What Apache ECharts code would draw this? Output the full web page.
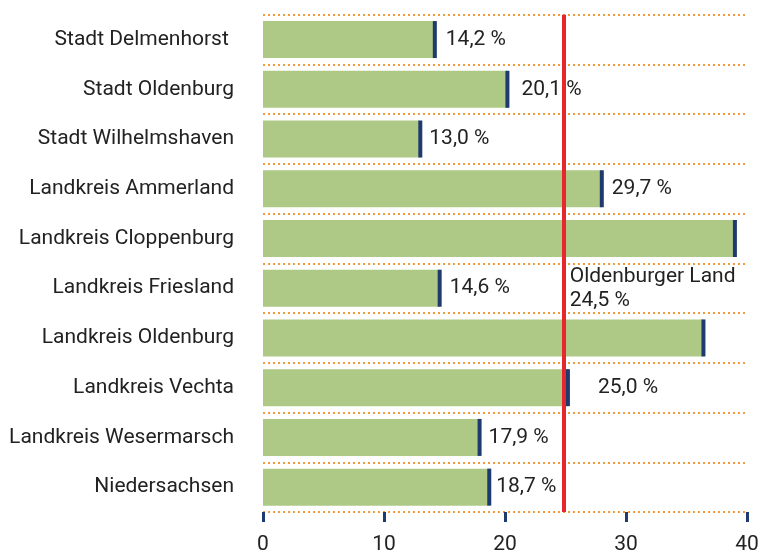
<!DOCTYPE html>
<html>
<head>
<meta charset="utf-8">
<script src="https://cdn.jsdelivr.net/npm/echarts@6/dist/echarts.min.js"></script>
<style>
html,body{margin:0;padding:0;background:#fff;}
#chart{width:765px;height:555px;}
</style>
</head>
<body>
<div id="chart"></div>
<script>
// Categories (top to bottom)
var categories = [
  'Stadt Delmenhorst ',
  'Stadt Oldenburg',
  'Stadt Wilhelmshaven',
  'Landkreis Ammerland',
  'Landkreis Cloppenburg',
  'Landkreis Friesland',
  'Landkreis Oldenburg',
  'Landkreis Vechta',
  'Landkreis Wesermarsch',
  'Niedersachsen'
];
// Bar lengths as drawn in the picture (percent)
var values = [14.2, 20.2, 13.0, 28.0, 39.0, 14.6, 36.4, 25.2, 17.9, 18.7];
// Value labels as printed (empty = no label)
var valueLabels = ['14,2 %', '20,1 %', '13,0 %', '29,7 %', '', '14,6 %', '', '25,0 %', '17,9 %', '18,7 %'];
// Reference line (Oldenburger Land)
var refValue = 24.85;
var refCategory = 'Landkreis Friesland';
var refLabel = 'Oldenburger Land\n24,5 %';
// Axis ticks
var xMin = 0, xMax = 40, xInterval = 10;

var FONT = 'Roboto';
var labelDistance = [11, 14, 9, 10, 10, 10, 10, 30, 9, 7];

var chart = echarts.init(document.getElementById('chart'), null, {renderer: 'canvas'});

var barData = values.map(function (v, i) {
  return {
    value: v,
    label: {
      show: valueLabels[i] !== '',
      formatter: valueLabels[i],
      distance: labelDistance[i]
    }
  };
});

chart.setOption({
  animation: false,
  grid: {left: 263, right: 18, top: 14.7, bottom: 43, containLabel: false},
  xAxis: {
    type: 'value',
    min: xMin, max: xMax, interval: xInterval,
    axisLine: {show: false},
    axisTick: {show: true, length: 10, lineStyle: {color: '#1f3a6e', width: 3}},
    splitLine: {show: false},
    axisLabel: {margin: 22, fontSize: 21, color: '#222', fontFamily: FONT}
  },
  yAxis: {
    type: 'category',
    inverse: true,
    data: categories,
    axisLine: {show: false},
    axisTick: {show: false},
    splitLine: {show: true, lineStyle: {color: '#f39a3c', width: 2, type: [2, 3]}},
    axisLabel: {margin: 29, fontSize: 21, color: '#222', fontFamily: FONT}
  },
  series: [
    {
      type: 'bar',
      data: barData,
      barWidth: 37,
      itemStyle: {color: '#adc985'},
      label: {
        position: 'right',
        fontSize: 21,
        color: '#222',
        fontFamily: FONT
      },
      z: 2,
      markLine: {
        silent: true,
        symbol: 'none',
        label: {show: false},
        lineStyle: {color: '#e8262d', width: 4, type: 'solid'},
        data: [{xAxis: refValue}],
        z: 5
      },
      markPoint: {
        silent: true,
        symbol: 'rect',
        symbolSize: 0,
        data: [{coord: [refValue, refCategory]}],
        label: {
          show: true,
          formatter: refLabel,
          position: 'inside',
          align: 'left',
          verticalAlign: 'middle',
          offset: [6, 1],
          fontSize: 21,
          lineHeight: 24,
          color: '#222',
          fontFamily: FONT
        }
      }
    },
    {
      type: 'custom',
      z: 3,
      data: values.map(function (v, i) { return [v, i]; }),
      encode: {x: 0, y: 1},
      renderItem: function (params, api) {
        var p = api.coord([api.value(0), api.value(1)]);
        var h = 37;
        return {
          type: 'rect',
          shape: {x: p[0] - 2, y: p[1] - h / 2, width: 4, height: h},
          style: {fill: '#1f3a6e'}
        };
      }
    }
  ]
});
</script>
</body>
</html>
